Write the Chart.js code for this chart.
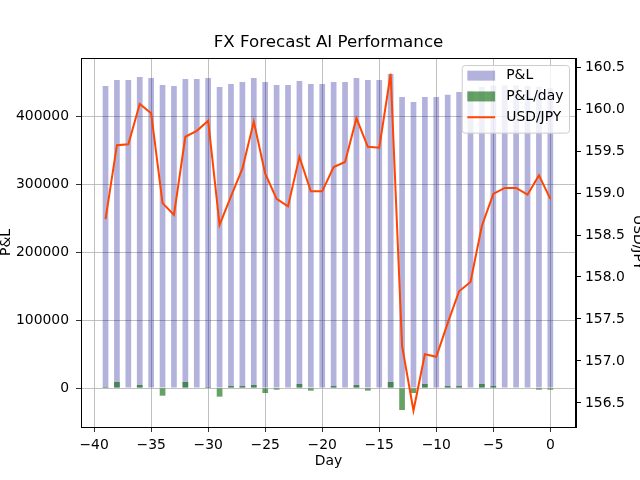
<!DOCTYPE html>
<html>
<head>
<meta charset="utf-8">
<script src="https://cdn.jsdelivr.net/npm/chart.js@4.4.1/dist/chart.umd.min.js"></script>
<style>
  html, body { margin: 0; padding: 0; background: #fff; }
  #wrap { width: 640px; height: 480px; }
</style>
</head>
<body>
<div id="wrap"><canvas id="fx-chart" width="640" height="480"></canvas></div>
<script>
var days = [-39, -38, -37, -36, -35, -34, -33, -32, -31, -30,
            -29, -28, -27, -26, -25, -24, -23, -22, -21, -20,
            -19, -18, -17, -16, -15, -14, -13, -12, -11, -10,
            -9, -8, -7, -6, -5, -4, -3, -2, -1, 0];

var pnl = [444000, 453000, 453000, 457400, 455900, 445600, 444100, 454400, 454400, 455900,
           442600, 447000, 450000, 455900, 450000, 445600, 445600, 451500, 447000, 447000,
           450000, 450000, 455900, 453000, 453000, 461800, 427900, 420600, 427900, 427900,
           431300, 435300, 438000, 443000, 445000, 445000, 445000, 444000, 443000, 441000];

var pnlDay = [1500, 8800, 0, 4400, 0, -11300, 0, 8800, 0, 1500,
              -12700, 2900, 2900, 4400, -7400, -2500, 0, 5900, -3900, 0,
              2900, 0, 4400, -3900, 0, 8800, -32400, -7400, 5900, 0,
              2900, 2900, 0, 5900, 2900, 0, 0, 0, -2500, -2500];

var usdJpy = [158.69, 159.57, 159.58, 160.06, 159.95, 158.88, 158.74, 159.67, 159.74, 159.86,
              158.62, 158.96, 159.29, 159.85, 159.23, 158.93, 158.84, 159.43, 159.02, 159.02,
              159.31, 159.37, 159.89, 159.55, 159.54, 160.42, 157.18, 156.41, 157.08, 157.05,
              157.45, 157.83, 157.94, 158.61, 158.99, 159.06, 159.06, 158.98, 159.21, 158.93];

var dayTicks = [-40, -35, -30, -25, -20, -15, -10, -5, 0];
var pnlTicks = [0, 100000, 200000, 300000, 400000];
var usdTicks = [156.5, 157.0, 157.5, 158.0, 158.5, 159.0, 159.5, 160.0, 160.5];

function points(ys) {
    var out = [];
    for (var i = 0; i < days.length; i++) {
        out.push({ x: days[i], y: ys[i] });
    }
    return out;
}

function useTicks(list) {
    return function(scale) {
        scale.ticks = list.map(function(v) { return { value: v }; });
    };
}

var FONT = 'DejaVu Sans';
Chart.defaults.font.family = FONT;
Chart.defaults.color = '#000';

// matplotlib-style frame + legend box inside the axes
var framePlugin = {
    id: 'frame',
    afterDraw: function(chart) {
        var ctx = chart.ctx, a = chart.chartArea;
        ctx.save();
        ctx.strokeStyle = '#000';
        ctx.lineWidth = 1;
        ctx.strokeRect(Math.round(a.left) + 0.5, Math.round(a.top) + 0.5,
                       Math.round(a.right - a.left) - 1, Math.round(a.bottom - a.top));

        var fs = 13.9;
        ctx.font = fs + 'px ' + FONT;
        var items = [chart.data.datasets[0], chart.data.datasets[1], chart.data.datasets[2]];
        var textW = 0;
        items.forEach(function(d) { textW = Math.max(textW, ctx.measureText(d.label).width); });
        var pad = 5.6, handle = 27.8, gap = 11.1, rowH = 20.8;
        var w = pad + handle + gap + textW + pad;
        var h = pad * 2 + rowH * items.length - 6;
        var x = a.right - 7 - w, y = a.top + 7;
        ctx.fillStyle = 'rgba(255,255,255,0.8)';
        ctx.strokeStyle = '#cccccc';
        ctx.beginPath();
        ctx.roundRect(x + 0.5, y + 0.5, w, h, 3);
        ctx.fill();
        ctx.stroke();
        items.forEach(function(d, i) {
            var cy = y + pad + 5 + rowH * i;
            if (d.type === 'line') {
                ctx.strokeStyle = d.borderColor;
                ctx.lineWidth = 2;
                ctx.beginPath();
                ctx.moveTo(x + pad, cy);
                ctx.lineTo(x + pad + handle, cy);
                ctx.stroke();
            } else {
                ctx.fillStyle = d.backgroundColor;
                ctx.fillRect(x + pad, cy - 5, handle, 10);
            }
            ctx.fillStyle = '#000';
            ctx.textBaseline = 'middle';
            ctx.textAlign = 'left';
            ctx.fillText(d.label, x + pad + handle + gap, cy);
        });
        ctx.restore();
    }
};

new Chart(document.getElementById('fx-chart'), {
    data: {
        datasets: [
            {
                type: 'bar',
                label: 'P&L',
                data: points(pnl),
                backgroundColor: 'rgba(0,0,139,0.3)',
                yAxisID: 'y',
                grouped: false,
                barPercentage: 0.5,
                categoryPercentage: 1.0,
                order: 3
            },
            {
                type: 'bar',
                label: 'P&L/day',
                data: points(pnlDay),
                backgroundColor: 'rgba(0,100,0,0.6)',
                yAxisID: 'y',
                grouped: false,
                barPercentage: 0.5,
                categoryPercentage: 1.0,
                order: 2
            },
            {
                type: 'line',
                label: 'USD/JPY',
                data: points(usdJpy),
                borderColor: '#ff4500',
                backgroundColor: '#ff4500',
                borderWidth: 2,
                pointRadius: 0,
                tension: 0,
                yAxisID: 'y1',
                order: 1
            }
        ]
    },
    options: {
        responsive: false,
        animation: false,
        layout: { padding: 0 },
        plugins: {
            legend: { display: false },
            tooltip: { enabled: false },
            title: {
                display: true,
                text: 'FX Forecast AI Performance',
                fullSize: false,
                font: { size: 16.7, weight: 'normal', family: FONT },
                color: '#000',
                padding: { top: 33, bottom: 5 }
            }
        },
        scales: {
            x: {
                type: 'linear',
                offset: false,
                min: -41.15,
                max: 2.25,
                afterBuildTicks: useTicks(dayTicks),
                afterFit: function(s) { s.height = 53; },
                grid: { offset: false, color: '#b0b0b0', lineWidth: 0.8, tickColor: '#000', tickLength: 5 },
                border: { color: '#000', width: 1 },
                ticks: {
                    padding: 5,
                    font: { size: 13.9 },
                    maxRotation: 0,
                    callback: function(v) { return String(v).replace('-', '\u2212'); }
                },
                title: { display: true, text: 'Day', font: { size: 13.9 }, padding: { top: 0, bottom: 10 } }
            },
            y: {
                position: 'left',
                min: -57350,
                max: 485300,
                afterBuildTicks: useTicks(pnlTicks),
                afterFit: function(s) { s.width = 81; },
                grid: { color: '#b0b0b0', lineWidth: 0.8, tickColor: '#000', tickLength: 5 },
                border: { color: '#000', width: 1 },
                ticks: { padding: 7, font: { size: 13.9 }, callback: function(v) { return String(v); } },
                title: { display: true, text: 'P&L', font: { size: 13.9 }, padding: { top: -2, bottom: 0 } }
            },
            y1: {
                position: 'right',
                min: 156.214,
                max: 160.607,
                afterBuildTicks: useTicks(usdTicks),
                afterFit: function(s) { s.width = 64; },
                grid: { drawOnChartArea: false, tickColor: '#000', tickLength: 5 },
                border: { color: '#000', width: 1 },
                ticks: { padding: 4, font: { size: 13.9 }, callback: function(v) { return v.toFixed(1); } },
                title: { display: true, text: 'USD/JPY', font: { size: 13.9 }, padding: { top: -6, bottom: 0 } }
            }
        }
    },
    plugins: [framePlugin]
});
</script>
</body>
</html>
